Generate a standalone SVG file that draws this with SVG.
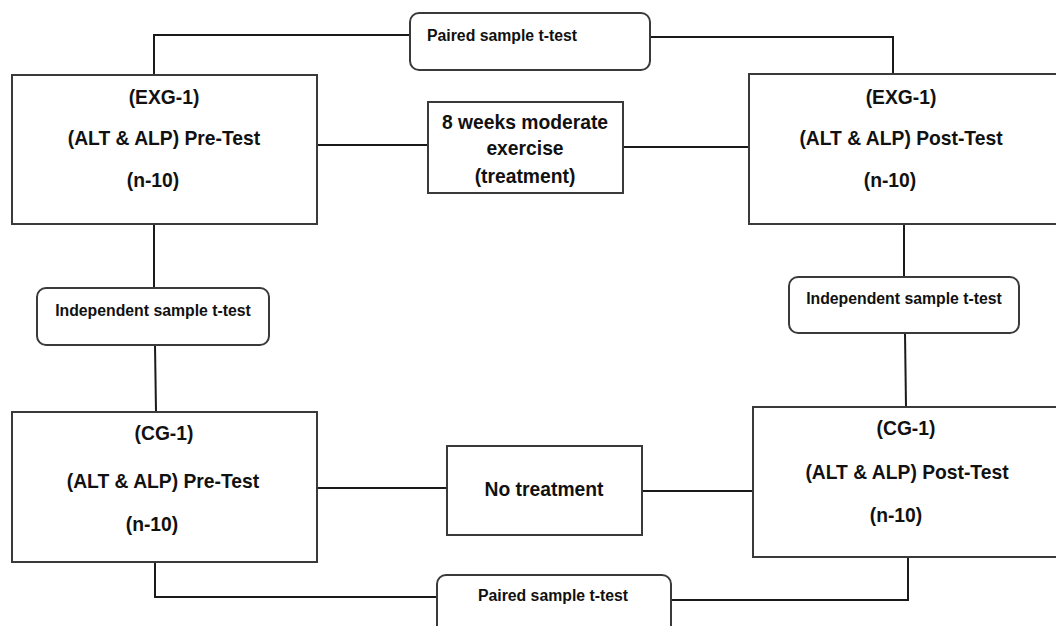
<svg xmlns="http://www.w3.org/2000/svg" width="1056" height="626" viewBox="0 0 1056 626">
<style>
.box{fill:#fff;stroke:#3a3a3a;stroke-width:2}
.lbl{fill:#fff;stroke:#3a3a3a;stroke-width:2}
.ln{fill:none;stroke:#1a1a1a;stroke-width:2}
text{font-family:"Liberation Sans",Arial,sans-serif;font-weight:bold;fill:#111;dominant-baseline:central}
.big{font-size:19.3px}
.sm{font-size:15.8px}
</style>
<rect width="1056" height="626" fill="#fff"/>
<g id="connectors">
<polyline class="ln" points="154,75 154,35 410,35"/>
<polyline class="ln" points="650,37 893,37 893,74"/>
<line class="ln" x1="317" y1="145" x2="428" y2="145"/>
<line class="ln" x1="623" y1="147" x2="749" y2="147"/>
<line class="ln" x1="154" y1="224" x2="154" y2="288"/>
<line class="ln" x1="155" y1="345" x2="156" y2="412"/>
<line class="ln" x1="904" y1="224" x2="904" y2="277"/>
<line class="ln" x1="905" y1="333" x2="906" y2="407"/>
<line class="ln" x1="317" y1="488" x2="447" y2="488"/>
<line class="ln" x1="642" y1="491" x2="753" y2="491"/>
<polyline class="ln" points="155,562 155,597 437,597"/>
<polyline class="ln" points="671,600 908,600 908,557"/>
</g>
<g id="exg-pre">
<rect class="box" x="12" y="75" width="305" height="149"/>
<text class="big" x="164" y="97" text-anchor="middle">(EXG-1)</text>
<text class="big" x="164" y="138" text-anchor="middle">(ALT &amp; ALP) Pre-Test</text>
<text class="big" x="153" y="180" text-anchor="middle">(n-10)</text>
</g>
<g id="exg-post">
<rect class="box" x="749" y="74" width="320" height="150"/>
<text class="big" x="901" y="97" text-anchor="middle">(EXG-1)</text>
<text class="big" x="901" y="138" text-anchor="middle">(ALT &amp; ALP) Post-Test</text>
<text class="big" x="890" y="180" text-anchor="middle">(n-10)</text>
</g>
<g id="paired-top">
<rect class="lbl" x="410" y="13" width="240" height="57" rx="9"/>
<text class="sm" x="427" y="35">Paired sample t-test</text>
</g>
<g id="treatment">
<rect class="box" x="428" y="102" width="195" height="91"/>
<text class="big" x="525" y="122" text-anchor="middle">8 weeks moderate</text>
<text class="big" x="525" y="148" text-anchor="middle">exercise</text>
<text class="big" x="525" y="176" text-anchor="middle">(treatment)</text>
</g>
<g id="indep-left">
<rect class="lbl" x="37" y="288" width="232" height="57" rx="9"/>
<text class="sm" x="153" y="310" text-anchor="middle">Independent sample t-test</text>
</g>
<g id="indep-right">
<rect class="lbl" x="789" y="277" width="230" height="56" rx="9"/>
<text class="sm" x="904" y="298" text-anchor="middle">Independent sample t-test</text>
</g>
<g id="cg-pre">
<rect class="box" x="12" y="412" width="305" height="150"/>
<text class="big" x="164" y="433" text-anchor="middle">(CG-1)</text>
<text class="big" x="163" y="481" text-anchor="middle">(ALT &amp; ALP) Pre-Test</text>
<text class="big" x="152" y="524" text-anchor="middle">(n-10)</text>
</g>
<g id="cg-post">
<rect class="box" x="753" y="407" width="320" height="150"/>
<text class="big" x="906" y="428" text-anchor="middle">(CG-1)</text>
<text class="big" x="907" y="472" text-anchor="middle">(ALT &amp; ALP) Post-Test</text>
<text class="big" x="896" y="515" text-anchor="middle">(n-10)</text>
</g>
<g id="no-treatment">
<rect class="box" x="447" y="446" width="195" height="89"/>
<text class="big" x="544" y="489" text-anchor="middle">No treatment</text>
</g>
<g id="paired-bottom">
<rect class="lbl" x="437" y="575" width="234" height="70" rx="9"/>
<text class="sm" x="553" y="595" text-anchor="middle">Paired sample t-test</text>
</g>
</svg>
